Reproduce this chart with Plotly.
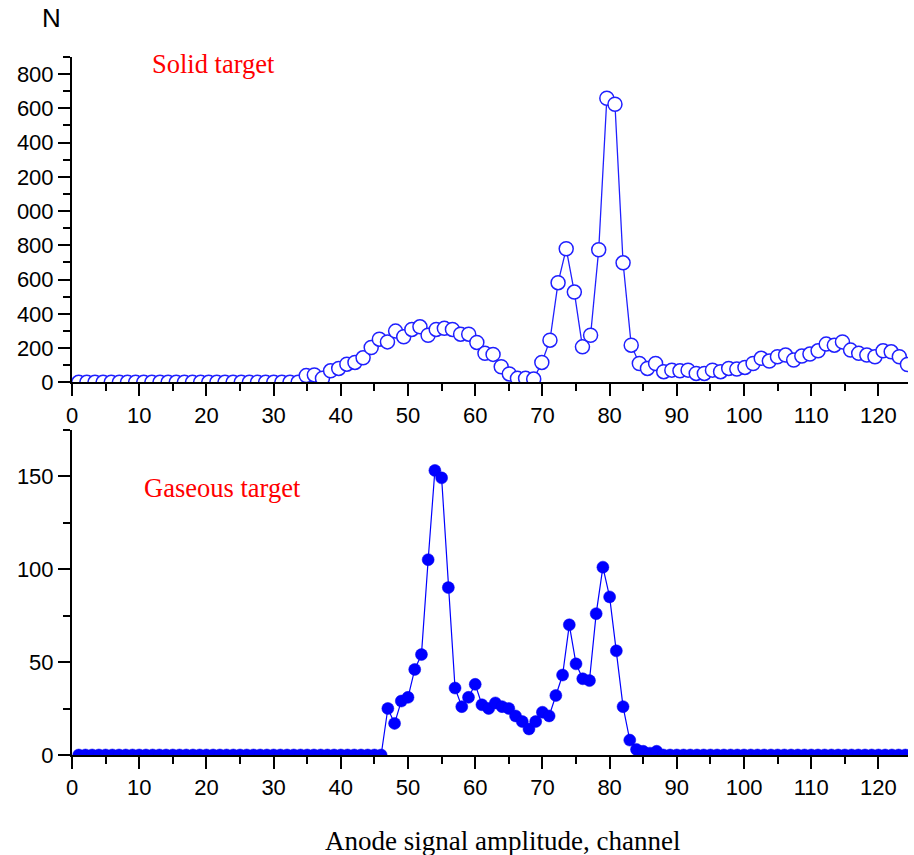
import plotly.graph_objects as go

# ---------------- data ----------------
# Solid target: counts sampled on an evenly spaced grid (channel start + step)
solid_x_start = 1.0
solid_x_step = 1.209
solid_counts = [0] * 28 + [
    39, 43, 23, 67, 81, 106, 116, 143, 203, 252,
    236, 299, 266, 309, 324, 275, 309, 315, 309, 281,
    281, 233, 169, 163, 91, 49, 23, 23, 19, 116,
    246, 582, 780, 527, 207, 275, 774, 1659, 1624, 698,
    217, 110, 81, 110, 62, 71, 67, 71, 52, 52,
    71, 62, 81, 77, 87, 110, 140, 124, 149, 159,
    130, 153, 165, 184, 223, 217, 236, 188, 169, 159,
    149, 184, 178, 149, 104,
]
solid_x = [solid_x_start + solid_x_step * i for i in range(len(solid_counts))]

# Gaseous target: one point per channel
gas_channels = list(range(1, 125))
gas_counts = [0] * 46 + [
    25, 17, 29, 31, 46, 54, 105, 153, 149, 90,
    36, 26, 31, 38, 27, 25, 28, 26, 25, 21,
    18, 14, 18, 23, 21, 32, 43, 70, 49, 41,
    40, 76, 101, 85, 56, 26, 8, 3, 2, 1,
    2,
] + [0] * 37

solid_tickvals = [0, 200, 400, 600, 800, 1000, 1200, 1400, 1600, 1800]
solid_ticktext = ["0", "200", "400", "600", "800", "000", "200", "400", "600", "800"]
gas_tickvals = [0, 50, 100, 150]
x_tickvals = [0, 10, 20, 30, 40, 50, 60, 70, 80, 90, 100, 110, 120]

# ---------------- layout geometry ----------------
W, H = 914, 855
ML, MR, MT, MB = 72, 6, 57, 100
PW = W - ML - MR
PH = H - MT - MB


def px2paper(px):
    return (px - ML) / PW


def py2paper(py):
    return (H - MB - py) / PH


TICKFONT = dict(family="Liberation Sans, Arial, sans-serif", size=22, color="black")
SERIF = "Liberation Serif, Times New Roman, serif"

fig = go.Figure()

fig.add_trace(go.Scatter(
    x=solid_x, y=solid_counts, mode="lines+markers",
    line=dict(color="#2020ff", width=1.3),
    marker=dict(symbol="circle", size=14, color="white",
                line=dict(color="#2020ff", width=1.5)),
    xaxis="x", yaxis="y", showlegend=False,
))

fig.add_trace(go.Scatter(
    x=gas_channels, y=gas_counts, mode="lines+markers",
    line=dict(color="#0000ff", width=1.2),
    marker=dict(symbol="circle", size=12, color="#0000ff",
                line=dict(color="#0000ee", width=0.5)),
    xaxis="x2", yaxis="y2", showlegend=False,
))

common_x = dict(
    range=[0, 124.4], tickmode="array", tickvals=x_tickvals,
    ticks="outside", ticklen=12, tickwidth=2, tickcolor="black",
    showline=True, linewidth=2, linecolor="black",
    showgrid=False, zeroline=False, tickfont=TICKFONT,
    minor=dict(ticks="outside", ticklen=7, tickwidth=2, tickcolor="black",
               tickmode="linear", tick0=0, dtick=5, showgrid=False),
)
common_y = dict(
    ticks="outside", ticklen=12, tickwidth=2, tickcolor="black",
    showline=True, linewidth=2, linecolor="black",
    showgrid=False, zeroline=False, tickfont=TICKFONT,
)

top_dom = [py2paper(382.3), 1.0]
bot_dom = [0.0, py2paper(429.5)]

fig.update_layout(
    width=W, height=H,
    margin=dict(l=ML, r=MR, t=MT, b=MB),
    paper_bgcolor="white", plot_bgcolor="white",
    xaxis=dict(common_x, domain=[0, 1], anchor="y"),
    yaxis=dict(common_y, domain=top_dom, anchor="x", range=[0, 1900],
               tickmode="array", tickvals=solid_tickvals, ticktext=solid_ticktext,
               minor=dict(ticks="outside", ticklen=7, tickwidth=2, tickcolor="black",
                          tickmode="linear", tick0=0, dtick=100, showgrid=False)),
    xaxis2=dict(common_x, domain=[0, 1], anchor="y2"),
    yaxis2=dict(common_y, domain=bot_dom, anchor="x2", range=[0, 175],
                tickmode="array", tickvals=gas_tickvals,
                minor=dict(ticks="outside", ticklen=7, tickwidth=2, tickcolor="black",
                           tickmode="linear", tick0=0, dtick=25, showgrid=False)),
)

annotations = [
    dict(text="N", x=px2paper(51.5), y=py2paper(18), xanchor="center", yanchor="middle",
         font=dict(family="Liberation Sans, Arial, sans-serif", size=26, color="black")),
    dict(text="Solid target", x=px2paper(150), y=py2paper(64), xanchor="left", yanchor="middle",
         font=dict(family=SERIF, size=26.5, color="#ff0000")),
    dict(text="Gaseous target", x=px2paper(141.7), y=py2paper(488), xanchor="left", yanchor="middle",
         font=dict(family=SERIF, size=26.5, color="#ff0000")),
    dict(text="Anode signal amplitude, channel", x=px2paper(502.5), y=py2paper(841),
         xanchor="center", yanchor="middle",
         font=dict(family=SERIF, size=27, color="black")),
]
for a in annotations:
    a.update(xref="paper", yref="paper", showarrow=False)
fig.update_layout(annotations=annotations)

fig.write_html("out.html")
